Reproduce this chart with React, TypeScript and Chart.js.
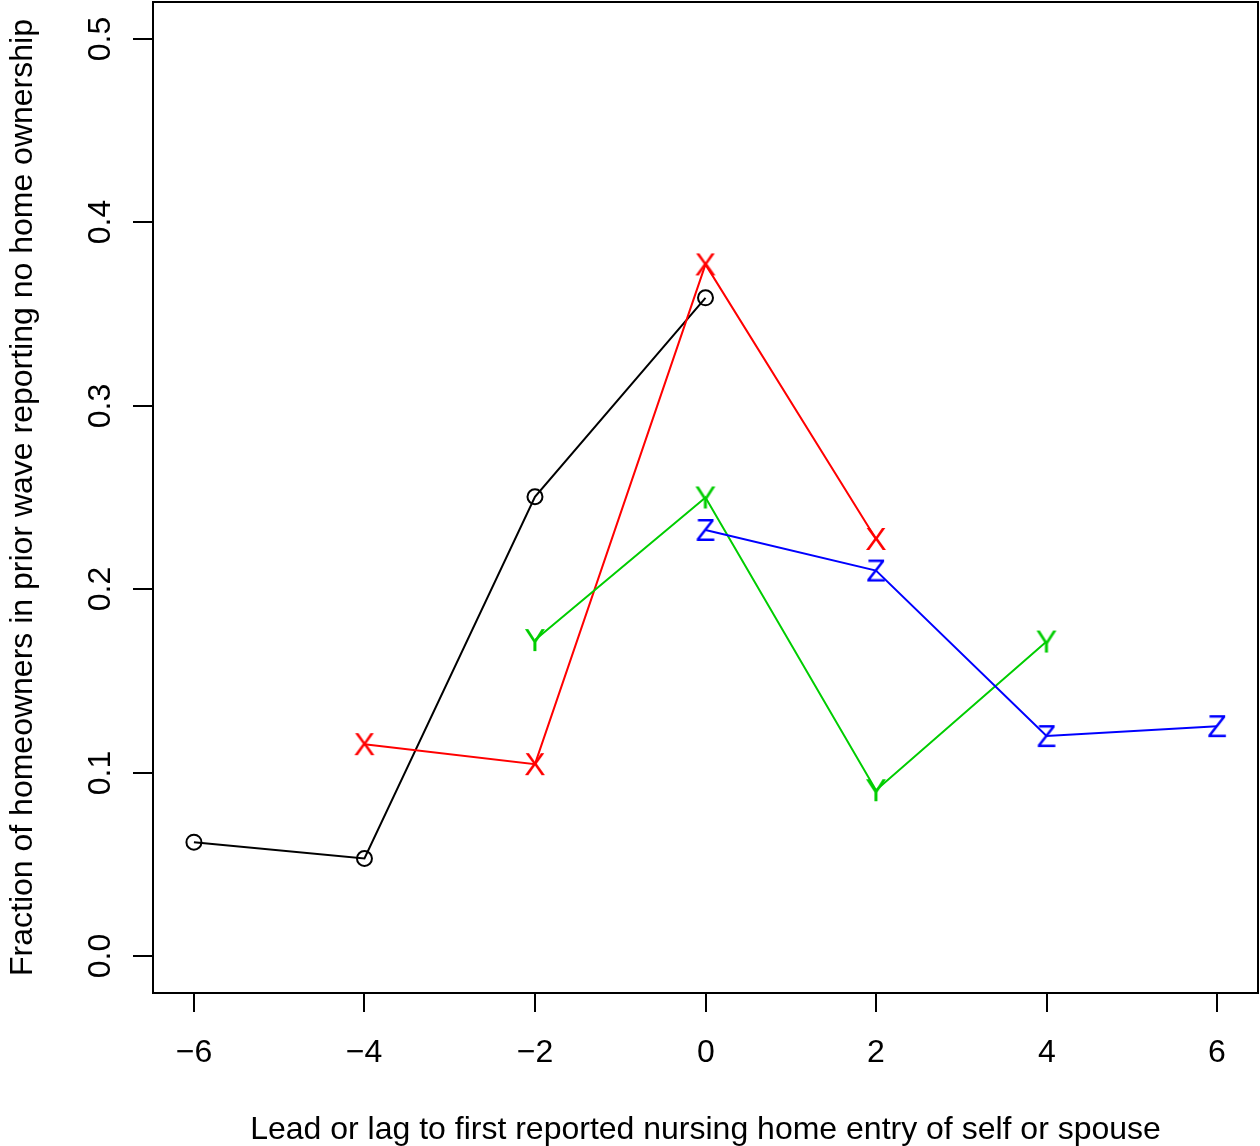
import React, { useEffect, useRef } from "react";
import { Chart, registerables } from "chart.js";

Chart.register(...registerables);

// Lead or lag (waves) to first reported nursing home entry
const leadLag = [-6, -4, -2, 0, 2, 4, 6];
// Series (null = no point)
const seriesCircle = [0.0622, 0.0533, 0.2504, 0.3588, null, null, null];
const seriesX = [null, 0.1156, 0.1047, 0.377, 0.2274, null, null];
const seriesY = [null, null, 0.1723, 0.25, 0.0905, 0.1715, null];
const seriesZ = [null, null, null, 0.2323, 0.2102, 0.12, 0.1254];

const xTickValues = [-6, -4, -2, 0, 2, 4, 6];
const xTickLabels = ["\u22126", "\u22124", "\u22122", "0", "2", "4", "6"];
const yTickValues = [0, 0.1, 0.2, 0.3, 0.4, 0.5];
const yTickLabels = ["0.0", "0.1", "0.2", "0.3", "0.4", "0.5"];

const xTitle = "Lead or lag to first reported nursing home entry of self or spouse";
const yTitle = "Fraction of homeowners in prior wave reporting no home ownership";

const FONT_PX = 32;
const FONT = `${FONT_PX}px "Liberation Sans", Arial, Helvetica, sans-serif`;

function toPoints(vals: (number | null)[]) {
  return leadLag
    .map((x, i) => ({ x, y: vals[i] }))
    .filter((p) => p.y !== null) as { x: number; y: number }[];
}

function letterMarker(ch: string, color: string): HTMLCanvasElement {
  const c = document.createElement("canvas");
  c.width = 44;
  c.height = 44;
  const ctx = c.getContext("2d")!;
  ctx.font = FONT;
  ctx.fillStyle = color;
  ctx.textAlign = "center";
  ctx.textBaseline = "alphabetic";
  ctx.fillText(ch, 22, 22 + (0.716 * FONT_PX) / 2);
  return c;
}

const rAxesPlugin = {
  id: "rAxes",
  afterDraw(chart: any) {
    const { ctx, chartArea: a } = chart;
    const xs = chart.scales.x;
    const ys = chart.scales.y;
    ctx.save();
    ctx.strokeStyle = "#000";
    ctx.fillStyle = "#000";
    ctx.lineWidth = 2;
    ctx.strokeRect(a.left, a.top, a.right - a.left, a.bottom - a.top);
    ctx.font = FONT;

    // x axis ticks and labels
    ctx.textAlign = "center";
    ctx.textBaseline = "alphabetic";
    xTickValues.forEach((v, i) => {
      const px = Math.round(xs.getPixelForValue(v));
      ctx.beginPath();
      ctx.moveTo(px, a.bottom);
      ctx.lineTo(px, a.bottom + 19);
      ctx.stroke();
      ctx.fillText(xTickLabels[i], px, a.bottom + 69);
    });

    // y axis ticks and rotated labels
    yTickValues.forEach((v, i) => {
      const py = Math.round(ys.getPixelForValue(v));
      ctx.beginPath();
      ctx.moveTo(a.left - 20, py);
      ctx.lineTo(a.left, py);
      ctx.stroke();
      ctx.save();
      ctx.translate(a.left - 43, py);
      ctx.rotate(-Math.PI / 2);
      ctx.textAlign = "center";
      ctx.textBaseline = "alphabetic";
      ctx.fillText(yTickLabels[i], 0, 0);
      ctx.restore();
    });

    // axis titles
    ctx.textAlign = "center";
    ctx.textBaseline = "alphabetic";
    ctx.fillText(xTitle, (a.left + a.right) / 2, a.bottom + 146);
    ctx.save();
    ctx.translate(32, (a.top + a.bottom) / 2);
    ctx.rotate(-Math.PI / 2);
    ctx.fillText(yTitle, 0, 0);
    ctx.restore();
    ctx.restore();
  },
};

export default function App() {
  const ref = useRef<HTMLCanvasElement | null>(null);
  useEffect(() => {
    document.body.style.margin = "0";
    const canvas = ref.current!;
    const chart = new Chart(canvas, {
      type: "line",
      data: {
        datasets: [
          {
            data: toPoints(seriesCircle),
            borderColor: "#000000",
            borderWidth: 2,
            pointStyle: "circle",
            pointRadius: 7.5,
            pointBorderWidth: 2,
            pointBorderColor: "#000000",
            pointBackgroundColor: "rgba(0,0,0,0)",
            order: 3,
          },
          {
            data: toPoints(seriesX),
            borderColor: "#FF0000",
            borderWidth: 2,
            pointStyle: letterMarker("X", "#FF0000") as any,
            pointRadius: 10,
            order: 2,
          },
          {
            data: toPoints(seriesY),
            borderColor: "#00CD00",
            borderWidth: 2,
            pointStyle: letterMarker("Y", "#00CD00") as any,
            pointRadius: 10,
            order: 1,
          },
          {
            data: toPoints(seriesZ),
            borderColor: "#0000FF",
            borderWidth: 2,
            pointStyle: letterMarker("Z", "#0000FF") as any,
            pointRadius: 10,
            order: 0,
          },
        ],
      },
      options: {
        animation: false,
        responsive: false,
        devicePixelRatio: 1,
        layout: { autoPadding: false, padding: { left: 153, top: 2, right: 2, bottom: 153 } },
        elements: { line: { tension: 0 } },
        scales: {
          x: { type: "linear", min: -6.48, max: 6.48, display: false },
          y: { type: "linear", min: -0.02, max: 0.52, display: false },
        },
        plugins: {
          legend: { display: false },
          tooltip: { enabled: false },
        },
      },
      plugins: [rAxesPlugin],
    });
    return () => chart.destroy();
  }, []);
  return (
    <div style={{ width: 1260, height: 1146, background: "#fff" }}>
      <canvas ref={ref} width={1260} height={1146} style={{ display: "block" }} />
    </div>
  );
}
